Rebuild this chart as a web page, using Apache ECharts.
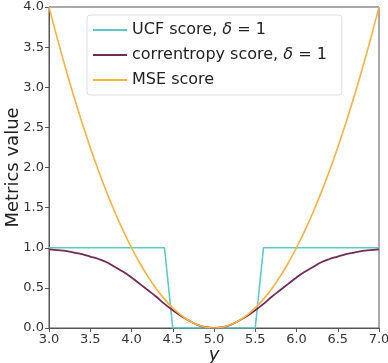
<!DOCTYPE html>
<html><head><meta charset="utf-8">
<script src="https://cdn.jsdelivr.net/npm/echarts@6/dist/echarts.min.js"></script>
<style>html,body{margin:0;padding:0;background:#fff}#c{width:388px;height:363px}</style>
</head><body><div id="c"></div>
<script>
const xs = [3.0,3.1,3.2,3.3,3.4,3.5,3.6,3.7,3.8,3.9,4.0,4.1,4.2,4.3,4.4,4.5,4.6,4.7,4.8,4.9,5.0,5.1,5.2,5.3,5.4,5.5,5.6,5.7,5.8,5.9,6.0,6.1,6.2,6.3,6.4,6.5,6.6,6.7,6.8,6.9,7.0];
const ucf = [1,1,1,1,1,1,1,1,1,1,1,1,1,1,1,0,0,0,0,0,0,0,0,0,0,0,1,1,1,1,1,1,1,1,1,1,1,1,1,1,1];
const corr = [0.98,0.97,0.96,0.94,0.92,0.89,0.86,0.82,0.76,0.70,0.63,0.55,0.47,0.39,0.30,0.22,0.15,0.09,0.04,0.01,0,0.01,0.04,0.09,0.15,0.22,0.30,0.39,0.47,0.55,0.63,0.70,0.76,0.82,0.86,0.89,0.92,0.94,0.96,0.97,0.98];
const mse = [4.00,3.61,3.24,2.89,2.56,2.25,1.96,1.69,1.44,1.21,1.00,0.81,0.64,0.49,0.36,0.25,0.16,0.09,0.04,0.01,0,0.01,0.04,0.09,0.16,0.25,0.36,0.49,0.64,0.81,1.00,1.21,1.44,1.69,1.96,2.25,2.56,2.89,3.24,3.61,4.00];
const names = ['UCF score, δ = 1','correntropy score, δ = 1','MSE score'];
const colors = ['#5ccbc8','#722a58','#ffb13d'];

const pair = a => xs.map((x,i)=>[x,a[i]]);
const chart = echarts.init(document.getElementById('c'));
const lbl = {color:'#333',fontSize:13,fontFamily:'DejaVu Sans',margin:5,formatter:v=>v.toFixed(1)};
const axisCommon = {
  axisLine:{show:true,onZero:false,lineStyle:{color:'#555',width:1}},
  axisTick:{show:true,inside:false,length:4,lineStyle:{color:'#555'}},
  splitLine:{show:false},
  nameMoveOverlap:false
};
chart.setOption({
  animation:false,
  grid:{left:49,right:9,top:7,bottom:35,containLabel:false,outerBoundsMode:'none',show:true,borderColor:'#555',borderWidth:1},
  legend:{
    data:names.map(n=>({name:n,icon:'rect'})),
    left:87,top:15,orient:'vertical',
    itemWidth:34,itemHeight:2,itemGap:9,
    backgroundColor:'#fff',borderColor:'#ddd',borderWidth:1,borderRadius:3,
    padding:[7,15,7,6],
    formatter:n=>n.replace('δ','{i|δ}'),
    textStyle:{fontSize:16,color:'#222',fontFamily:'DejaVu Sans',lineHeight:15,
      rich:{i:{fontStyle:'italic',fontSize:16,fontFamily:'DejaVu Sans',color:'#222'}}}
  },
  xAxis:Object.assign({type:'value',min:3,max:7,interval:0.5,
    name:'y',nameLocation:'middle',nameGap:18,
    nameTextStyle:{fontSize:18,fontStyle:'italic',color:'#222',fontFamily:'DejaVu Sans'},axisLabel:lbl},axisCommon),
  yAxis:Object.assign({type:'value',min:0,max:4,interval:0.5,
    name:'Metrics value',nameLocation:'middle',nameGap:27,
    nameTextStyle:{fontSize:18,color:'#222',fontFamily:'DejaVu Sans'},axisLabel:lbl},axisCommon),
  series:[
    {name:names[0],type:'line',data:pair(ucf),symbol:'none',lineStyle:{color:colors[0],width:1.6},itemStyle:{color:colors[0]},z:3},
    {name:names[1],type:'line',data:pair(corr),symbol:'none',smooth:0.4,lineStyle:{color:colors[1],width:1.8},itemStyle:{color:colors[1]},z:4},
    {name:names[2],type:'line',data:pair(mse),symbol:'none',smooth:0.4,lineStyle:{color:colors[2],width:1.6},itemStyle:{color:colors[2]},z:5}
  ]
});
</script></body></html>
